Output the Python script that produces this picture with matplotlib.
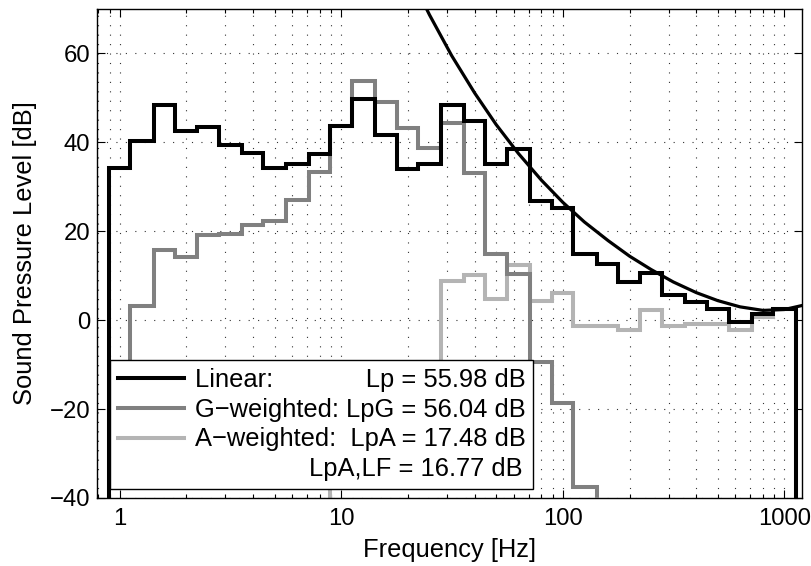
import numpy as np
import matplotlib
matplotlib.use("Agg")
from matplotlib import pyplot as plt
from matplotlib.lines import Line2D

plt.rcParams['font.family'] = ['Liberation Sans', 'DejaVu Sans']
plt.rcParams['font.size'] = 18.4

# third-octave band centres [Hz]
centros = [1, 1.25, 1.6, 2, 2.5, 3.15, 4, 5, 6.3, 8, 10, 12.5, 16, 20, 25, 31.5,
           40, 50, 63, 80, 100, 125, 160, 200, 250, 315, 400, 500, 630, 800, 1000]

# levels [dB]
lineal = [34.3, 40.4, 48.3, 42.5, 43.4, 39.4, 37.5, 34.3, 35.2, 37.3, 43.7, 49.8,
          41.6, 34.1, 35.2, 48.3, 44.8, 35.2, 38.6, 26.8, 25.3, 14.8, 12.6, 8.5,
          10.7, 5.7, 4.1, 2.5, -0.3, 1.5, 2.6]
# G-weighted, bands 1 Hz .. 125 Hz
ponderado_g = [-9.5, 3.1, 15.8, 14.3, 19.1, 19.3, 21.3, 22.3, 27.0, 33.3, 43.7,
               53.8, 49.1, 43.3, 38.8, 44.4, 33.0, 14.8, 10.5, -9.5, -18.7, -37.5]
# A-weighted, bands 10 Hz .. 1000 Hz
ponderado_a = [-26.7, -13.6, -15.1, -16.4, -9.5, 8.8, 10.1, 4.7, 12.4, 4.3, 6.1,
               -1.3, -1.3, -2.2, 2.3, -1.3, -0.9, -0.9, -2.2, 0.8, 2.6]

# hearing threshold curve
umbral_f = [20, 25, 31.5, 40, 50, 63, 80, 100, 125, 160, 200, 250, 315, 400,
            500, 630, 800, 1000, 1250]
umbral_db = [78.5, 68.7, 59.5, 51.1, 44.0, 37.5, 31.5, 26.5, 22.1, 17.9, 14.4,
             11.4, 8.6, 6.2, 4.4, 3.0, 2.2, 2.4, 3.5]

etiquetas = ["Linear:" + " " * 13 + "Lp = 55.98 dB",
             "G\u2212weighted: LpG = 56.04 dB",
             "A\u2212weighted:  LpA = 17.48 dB",
             " " * 16 + "LpA,LF = 16.77 dB"]

c = np.array(centros)
bordes = np.concatenate([c / 2 ** (1 / 6), [c[-1] * 2 ** (1 / 6)]])
nG = len(ponderado_g)
iA = len(centros) - len(ponderado_a)

fig = plt.figure(figsize=(8.11, 5.66), dpi=100)
ax = fig.add_axes([97 / 811, 1 - 498 / 566, 705 / 811, 489 / 566])

gris_a = '#b4b4b4'
gris_g = '#808080'
ax.stairs(ponderado_a, bordes[iA:], baseline=-300, color=gris_a, lw=2.9, zorder=2)
ax.stairs(ponderado_g, bordes[:nG + 1], baseline=-300, color=gris_g, lw=2.9, zorder=3)
ax.stairs(lineal, bordes, baseline=-300, color='black', lw=2.9, zorder=4)
ax.plot(umbral_f, umbral_db, color='black', lw=2.3, zorder=4)

ax.set_xscale('log')
ax.set_xlim(0.79, 1200)
ax.set_ylim(-40, 70)
ax.set_xticks([1, 10, 100, 1000])
ax.set_xticklabels(['1', '10', '100', '1000'])
ax.set_yticks([-40, -20, 0, 20, 40, 60])
ax.tick_params(which='both', direction='in', top=True, right=True, width=0.8,
               labelsize=17.2)
ax.tick_params(which='major', length=6, pad=7)
ax.tick_params(which='minor', length=3)
ax.tick_params(axis='y', pad=5)
for s in ax.spines.values():
    s.set_linewidth(1.0)

ax.grid(True, which='major', color='0.2', lw=0.8, ls=(0, (1, 7.5)))
ax.grid(True, which='minor', axis='x', color='0.2', lw=0.8, ls=(0, (1, 7.5)))
ax.set_axisbelow(True)

ax.set_xlabel('Frequency [Hz]', labelpad=6)
ax.set_ylabel('Sound Pressure Level [dB]', labelpad=9)

manijas = [Line2D([], [], color='black', lw=2.9),
           Line2D([], [], color=gris_g, lw=2.9),
           Line2D([], [], color=gris_a, lw=2.9),
           Line2D([], [], color='none')]
leg = ax.legend(manijas, etiquetas, loc='lower left', bbox_to_anchor=(0.0184, 0.0184),
                borderaxespad=0, fancybox=False, framealpha=1, edgecolor='black',
                handlelength=2.58, handletextpad=0.44, borderpad=0.3,
                labelspacing=0.23)
leg.get_frame().set_linewidth(1.0)

fig.savefig('out.png', dpi=100)
